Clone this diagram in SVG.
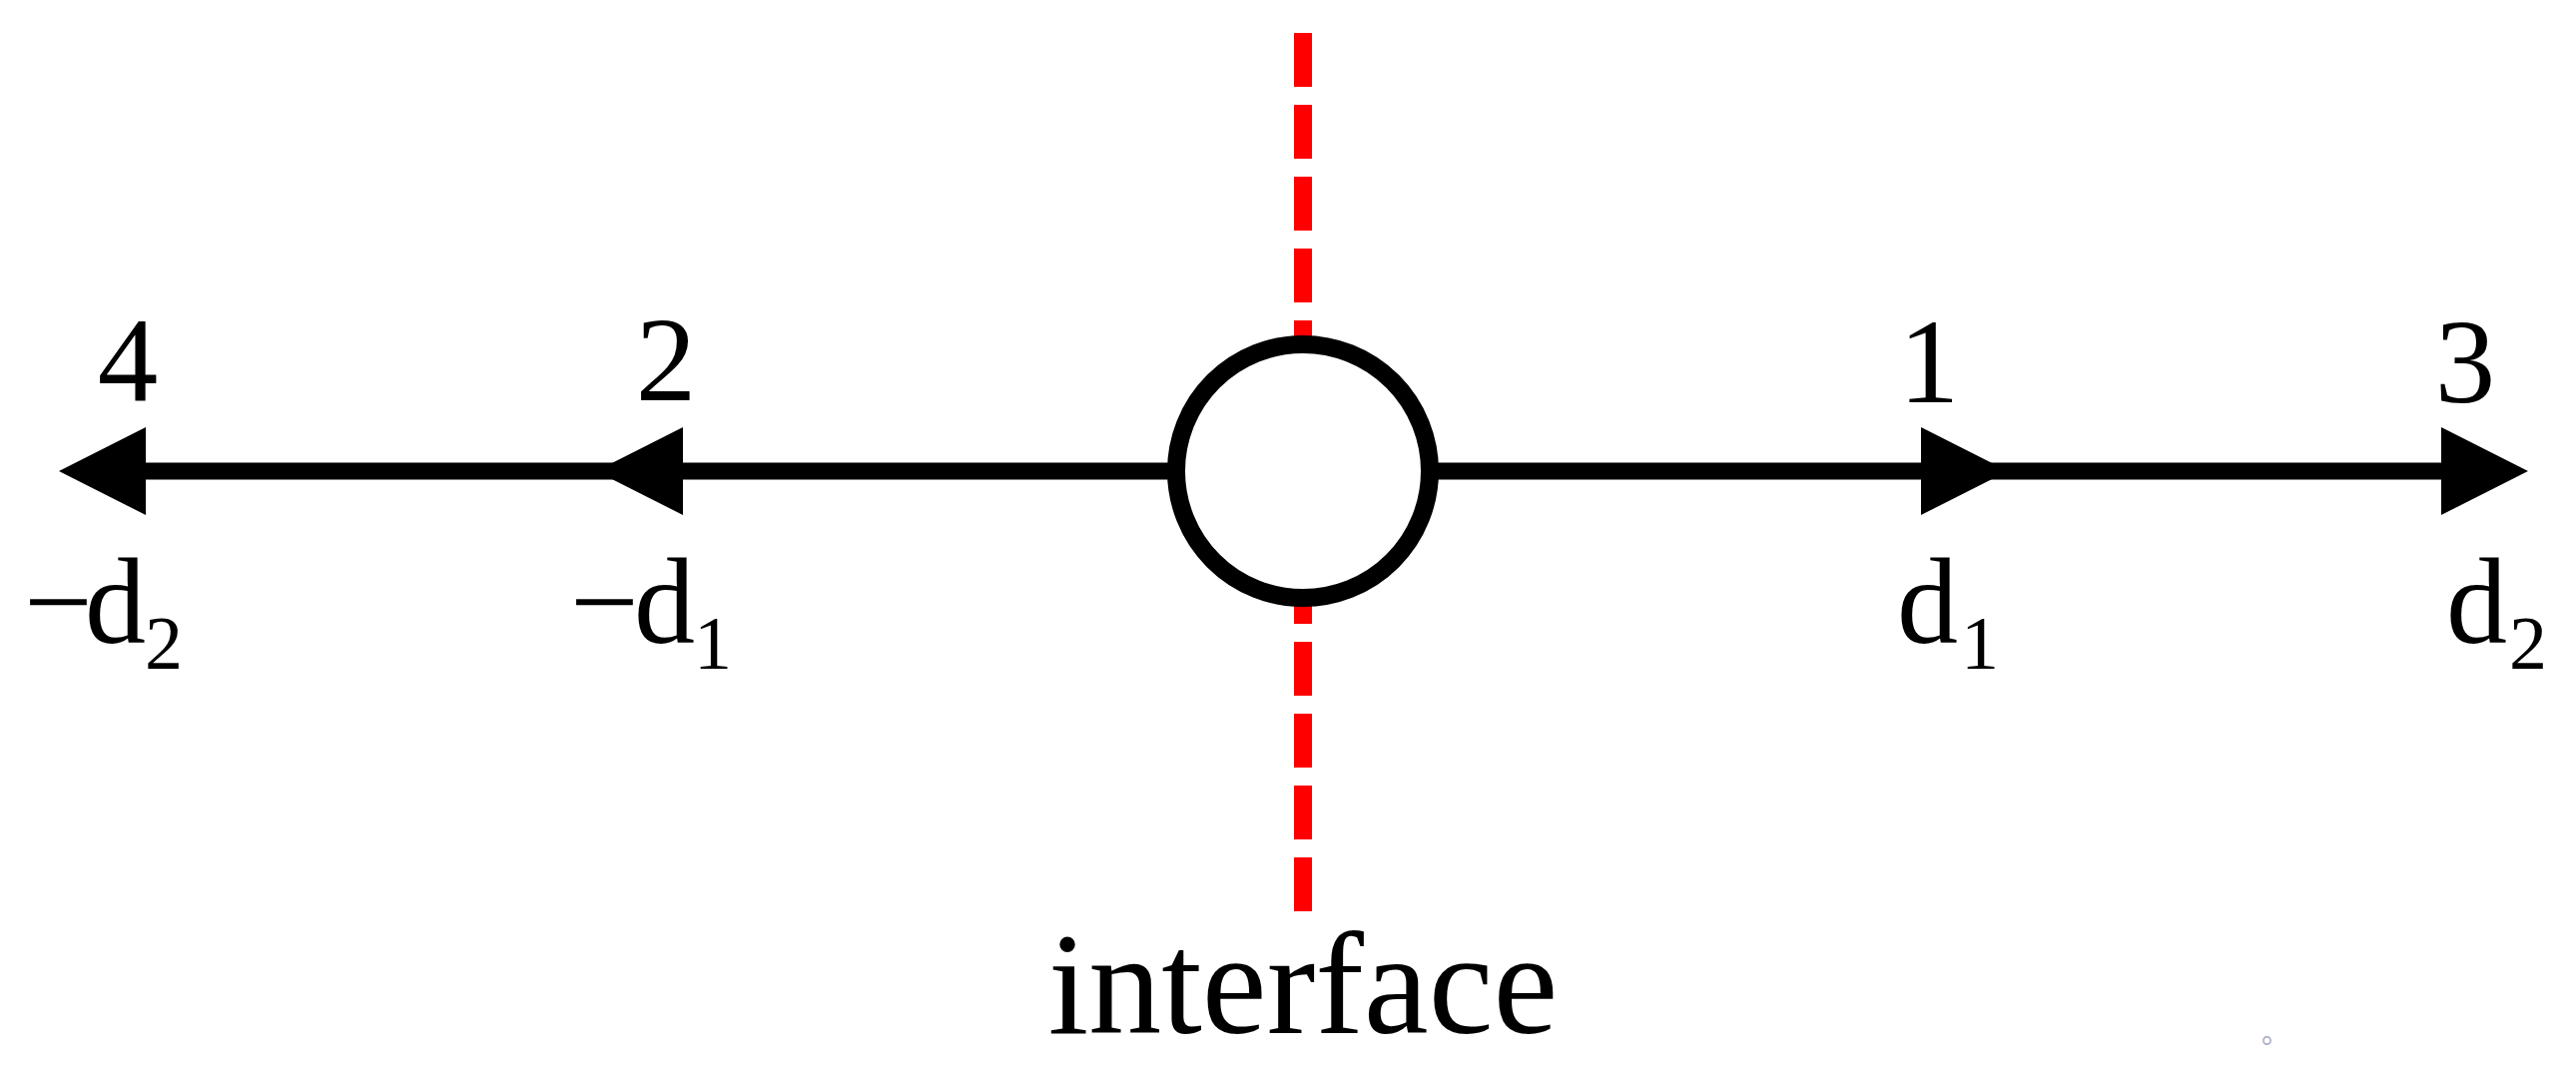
<svg xmlns="http://www.w3.org/2000/svg" width="2580" height="1068" viewBox="0 0 2580 1068">
  <style>
    .lbl { font-family: "Liberation Serif", "Times New Roman", serif; fill: #000; }
    .num { font-size: 121px; text-anchor: middle; }
    .pos { font-size: 122px; }
    .sub { font-size: 76px; }
    .axis { stroke: #000; stroke-width: 17; fill: none; }
    .iface { stroke: #FF0000; stroke-width: 18; fill: none; stroke-dasharray: 54 18; }
  </style>
  <defs>
    <marker id="arrow" markerUnits="userSpaceOnUse" markerWidth="87" markerHeight="88" refX="0" refY="44" orient="auto" overflow="visible">
      <path d="M0,0 L87,44 L0,88 Z" fill="#000"/>
    </marker>
  </defs>
  <rect width="2580" height="1068" fill="#fff"/>

  <g id="interface-line">
    <path class="iface" d="M1305,33 V400"/>
    <path class="iface" d="M1305,913 V560"/>
  </g>

  <g id="connectors">
    <path class="axis" d="M1177,472 H684" marker-end="url(#arrow)"/>
    <path class="axis" d="M684,472 H146" marker-end="url(#arrow)"/>
    <path class="axis" d="M1433,472 H1924" marker-end="url(#arrow)"/>
    <path class="axis" d="M1924,472 H2445" marker-end="url(#arrow)"/>
  </g>

  <g id="node-interface">
    <circle cx="1305" cy="472" r="127" fill="#fff" stroke="#000" stroke-width="18"/>
    <text class="lbl" x="1305" y="1035" font-size="146" text-anchor="middle">interface</text>
  </g>

  <g id="node-4">
    <text class="lbl num" x="128" y="401">4</text>
    <text class="lbl pos" y="644"><tspan x="24">−</tspan><tspan x="85">d</tspan><tspan class="sub" x="145" y="670">2</tspan></text>
  </g>
  <g id="node-2">
    <text class="lbl num" x="667" y="401">2</text>
    <text class="lbl pos" y="644"><tspan x="571">−</tspan><tspan x="635">d</tspan><tspan class="sub" x="695" y="670">1</tspan></text>
  </g>
  <g id="node-1">
    <text class="lbl num" x="1932" y="403">1</text>
    <text class="lbl pos" y="644"><tspan x="1900">d</tspan><tspan class="sub" x="1964" y="670">1</tspan></text>
  </g>
  <g id="node-3">
    <text class="lbl num" x="2469" y="403">3</text>
    <text class="lbl pos" y="644"><tspan x="2450">d</tspan><tspan class="sub" x="2513" y="670">2</tspan></text>
  </g>

  <text x="2265" y="1045" font-family="'Noto Sans CJK SC', sans-serif" font-size="28" fill="#a9a9c4">。</text>
</svg>
